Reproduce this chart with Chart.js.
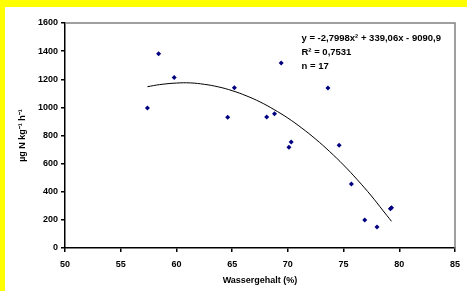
<!DOCTYPE html>
<html>
<head>
<meta charset="utf-8">
<script src="https://cdn.jsdelivr.net/npm/chart.js@4"></script>
<style>
  html, body { margin: 0; padding: 0; background: #ffffff; overflow: hidden; }
  #wrap { position: relative; width: 467px; height: 291px; }
</style>
</head>
<body>
<div id="wrap"><canvas id="chart"></canvas></div>
<script>
// measured points (Wassergehalt %, µg N kg-1 h-1)
const waterContent = [57.4, 58.4, 59.8, 64.6, 65.2, 68.1, 68.8, 69.4, 70.1, 70.3, 73.6, 74.6, 75.7, 76.9, 78.0, 79.2, 79.3];
const nRate = [996, 1382, 1213, 929, 1140, 932, 955, 1316, 716, 754, 1138, 730, 455, 199, 149, 280, 287];

// polynomial trend line
const trendX = [57.4, 58.5, 60, 61.25, 62.5, 63.75, 65, 66.25, 67.5, 68.75, 70, 71.25, 72.5, 73.75, 75, 76.25, 77.5, 78.5, 79.3];
const trendY = [1147, 1162, 1173, 1174, 1164, 1146, 1119, 1083, 1039, 985, 924, 853, 774, 686, 590, 484, 370, 270, 190];

const xTicks = [50, 55, 60, 65, 70, 75, 80, 85];
const yTicks = [0, 200, 400, 600, 800, 1000, 1200, 1400, 1600];

const equationLines = ["y = -2,7998x² + 339,06x - 9090,9", "R² = 0,7531", "n = 17"];

const font = { family: "'Liberation Sans', Arial, sans-serif", size: 9, weight: "bold" };

const frame = {
  id: "frame",
  beforeDraw(chart) {
    const { ctx, width, height } = chart;
    ctx.save();
    ctx.fillStyle = "#ffffff";
    ctx.fillRect(0, 0, width, height);
    ctx.fillStyle = "#ffff00";
    ctx.fillRect(0, 0, width, 7);
    ctx.fillRect(0, 0, 5, height);
    ctx.restore();
  },
  afterDraw(chart) {
    const { ctx, chartArea: a } = chart;
    ctx.save();
    ctx.strokeStyle = "#808080";
    ctx.lineWidth = 1.5;
    ctx.beginPath();
    ctx.moveTo(a.left, a.top);
    ctx.lineTo(a.right, a.top);
    ctx.lineTo(a.right, a.bottom);
    ctx.stroke();
    ctx.fillStyle = "#000000";
    ctx.font = "bold 9.5px 'Liberation Sans', Arial, sans-serif";
    ctx.textBaseline = "middle";
    equationLines.forEach((line, i) => {
      ctx.fillText(line, 301.5, 38.5 + i * 13.8);
    });
    ctx.restore();
  }
};

new Chart(document.getElementById("chart"), {
  type: "scatter",
  data: {
    datasets: [
      {
        label: "Messwerte",
        data: waterContent.map((x, i) => ({ x, y: nRate[i] })),
        pointStyle: "rectRot",
        pointRadius: 2.5,
        backgroundColor: "#000080",
        borderColor: "#000080",
        borderWidth: 0
      },
      {
        label: "Trend",
        type: "line",
        data: trendX.map((x, i) => ({ x, y: trendY[i] })),
        borderColor: "#000000",
        borderWidth: 1,
        pointRadius: 0,
        tension: 0.4,
        fill: false
      }
    ]
  },
  options: {
    responsive: true,
    maintainAspectRatio: false,
    animation: false,
    layout: { padding: { left: 5, top: 23, right: 8, bottom: 0 } },
    plugins: { legend: { display: false }, tooltip: { enabled: false } },
    scales: {
      x: {
        type: "linear",
        min: 50,
        max: 85,
        afterBuildTicks: (s) => { s.ticks = xTicks.map((v) => ({ value: v })); },
        ticks: { color: "#000000", font, padding: 7, maxRotation: 0, callback: (v) => String(v) },
        grid: { drawOnChartArea: false, tickLength: 4, color: "#000000", lineWidth: 1.5 },
        border: { color: "#000000", width: 1.5 },
        title: { display: true, text: "Wassergehalt (%)", color: "#000000", font, padding: { top: 0, bottom: 4.6 } },
        afterFit: (s) => { s.height = 43; }
      },
      y: {
        type: "linear",
        min: 0,
        max: 1600,
        afterBuildTicks: (s) => { s.ticks = yTicks.map((v) => ({ value: v })); },
        ticks: { color: "#000000", font, padding: 3, callback: (v) => String(v) },
        grid: { drawOnChartArea: false, tickLength: 4, color: "#000000", lineWidth: 1.5 },
        border: { color: "#000000", width: 1.5 },
        title: { display: true, text: "µg N kg⁻¹ h⁻¹", color: "#000000", font, padding: { top: 12, bottom: 0 } },
        afterFit: (s) => { s.width = 60; }
      }
    }
  },
  plugins: [frame]
});
</script>
</body>
</html>
